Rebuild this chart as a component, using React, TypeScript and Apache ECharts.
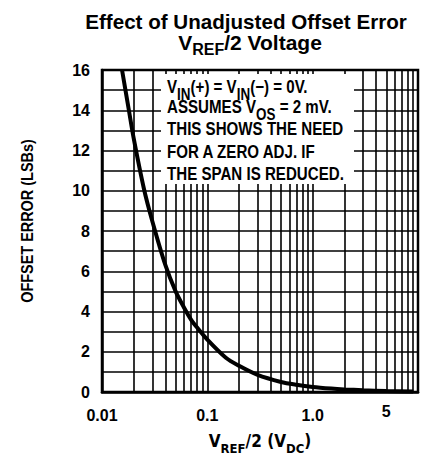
import React, { useEffect, useRef } from "react";
import * as echarts from "echarts";

// Curve: VREF/2 (V) vs offset error (LSBs)
const VREF_HALF = [0.0155, 0.018, 0.02, 0.025, 0.03, 0.04, 0.05, 0.06, 0.07, 0.08, 0.1, 0.15, 0.2, 0.3, 0.5, 0.7, 1, 1.5, 2, 3, 5, 9];
const OFFSET_LSB = [16.0, 14.0, 12.6, 10.1, 8.5, 6.3, 5.0, 4.2, 3.6, 3.2, 2.6, 1.7, 1.3, 0.85, 0.5, 0.36, 0.25, 0.17, 0.13, 0.09, 0.05, 0.03];

// Log-paper grid lines (between decades)
const MINOR_X = [0.02, 0.03, 0.04, 0.05, 0.06, 0.07, 0.08, 0.09, 0.2, 0.3, 0.4, 0.5, 0.6, 0.7, 0.8, 0.9, 2, 3, 4, 6, 7, 8, 9];
const EXTRA_X_LABEL = 5;
const X_LABELS: Record<string, string> = { "-2": "0.01", "-1": "0.1", "0": "1.0", "1": "" };

const NOTE_LINES = [
  "V{sub|IN}(+) = V{sub|IN}(−) = 0V.",
  "ASSUMES V{sub|OS} = 2 mV.",
  "THIS SHOWS THE NEED",
  "FOR A ZERO ADJ. IF",
  "THE SPAN IS REDUCED.",
];

const CONDENSED = "'DejaVu Sans Condensed', 'Liberation Sans', sans-serif";
const SANS = "'Liberation Sans', Arial, sans-serif";

export default function App() {
  const ref = useRef<HTMLDivElement>(null);
  useEffect(() => {
    if (!ref.current) return;
    const chart = echarts.init(ref.current, undefined, { renderer: "svg" });
    const noteYs = [88.5, 108.5, 130, 153, 175];
    const noteSub = { fontFamily: SANS, fontWeight: "bold", fontSize: 16, lineHeight: 16, padding: [14, 0, 0, 0], fill: "#000" };
    const option: any = {
      animation: false,
      backgroundColor: "#ffffff",
      grid: {
        left: 102, right: 4, top: 70, bottom: 74,
        show: true, borderColor: "#000", borderWidth: 2.5,
        outerBoundsMode: "none", containLabel: false,
      },
      xAxis: {
        type: "log", logBase: 10, min: 0.01, max: 10,
        name: "V{sub|REF}/2 (V{sub|DC})",
        nameLocation: "middle", nameGap: 31,
        nameTextStyle: {
          fontFamily: CONDENSED, fontWeight: "bold", fontSize: 17, color: "#000", lineHeight: 18,
          rich: { sub: { fontFamily: CONDENSED, fontWeight: "bold", fontSize: 13, lineHeight: 13, padding: [14, 0, 0, 0], color: "#000" } },
        },
        axisLine: { show: true, lineStyle: { color: "#000", width: 2.5 } },
        axisTick: { show: false },
        splitLine: { show: true, lineStyle: { color: "#000", width: 1.6 } },
        minorSplitLine: { show: false },
        axisLabel: {
          margin: 15, color: "#000", fontFamily: SANS, fontWeight: "bold", fontSize: 16,
          formatter: (v: number) => X_LABELS[String(Math.round(Math.log10(v)))] ?? "",
        },
      },
      yAxis: {
        type: "value", min: 0, max: 16, interval: 1,
        axisLine: { show: true, lineStyle: { color: "#000", width: 2.5 } },
        axisTick: { show: false },
        splitLine: { show: true, lineStyle: { color: "#000", width: 1.6 } },
        axisLabel: {
          margin: 12, color: "#000", fontFamily: SANS, fontWeight: "bold", fontSize: 16,
          formatter: (v: number) => (Math.round(v) % 2 === 0 ? String(Math.round(v)) : ""),
        },
      },
      series: [
        {
          type: "line",
          data: VREF_HALF.map((x, i) => [x, OFFSET_LSB[i]]),
          showSymbol: false, symbol: "none", smooth: 0.3,
          lineStyle: { color: "#000", width: 4 },
          z: 5,
          markLine: {
            silent: true, symbol: "none",
            lineStyle: { color: "#000", width: 1.6, type: "solid" },
            label: { show: false },
            data: [
              ...MINOR_X.map((v) => ({ xAxis: v })),
              {
                xAxis: EXTRA_X_LABEL,
                label: {
                  show: true, position: "start", distance: 11, formatter: String(EXTRA_X_LABEL),
                  color: "#000", fontFamily: SANS, fontWeight: "bold", fontSize: 16,
                },
              },
            ],
          },
        },
      ],
      graphic: [
        {
          type: "rect", z: 10,
          shape: { x: 161, y: 74, width: 193, height: 110 },
          style: { fill: "#fff" },
        },
        ...NOTE_LINES.map((t, i) => ({
          type: "text", z: 11, x: 167, y: noteYs[i] - 1, scaleX: 0.84,
          style: {
            text: t, fill: "#000", fontFamily: SANS, fontWeight: "bold", fontSize: 18, lineHeight: 18,
            verticalAlign: "middle", align: "left",
            rich: { sub: noteSub },
          },
        })),
        {
          type: "text", z: 11, x: 27, y: 221, rotation: Math.PI / 2, scaleX: 0.85,
          style: {
            text: "OFFSET ERROR (LSBs)", fill: "#000",
            fontFamily: SANS, fontWeight: "bold", fontSize: 17,
            align: "center", verticalAlign: "middle",
          },
        },
        {
          type: "text", z: 11, x: 246, y: 21,
          style: {
            text: "Effect of Unadjusted Offset Error", fill: "#000",
            fontFamily: SANS, fontWeight: "bold", fontSize: 20.6,
            align: "center", verticalAlign: "middle",
          },
        },
        {
          type: "text", z: 11, x: 250, y: 42,
          style: {
            text: "V{sub|REF}/2 Voltage", fill: "#000",
            fontFamily: SANS, fontWeight: "bold", fontSize: 21, lineHeight: 21,
            align: "center", verticalAlign: "middle",
            rich: { sub: { fontFamily: SANS, fontWeight: "bold", fontSize: 16, lineHeight: 16, padding: [14, 0, 0, 0], fill: "#000" } },
          },
        },
      ],
    };
    chart.setOption(option);
    return () => chart.dispose();
  }, []);
  return <div ref={ref} style={{ position: "absolute", left: 0, top: 0, width: 422, height: 466 }} />;
}
